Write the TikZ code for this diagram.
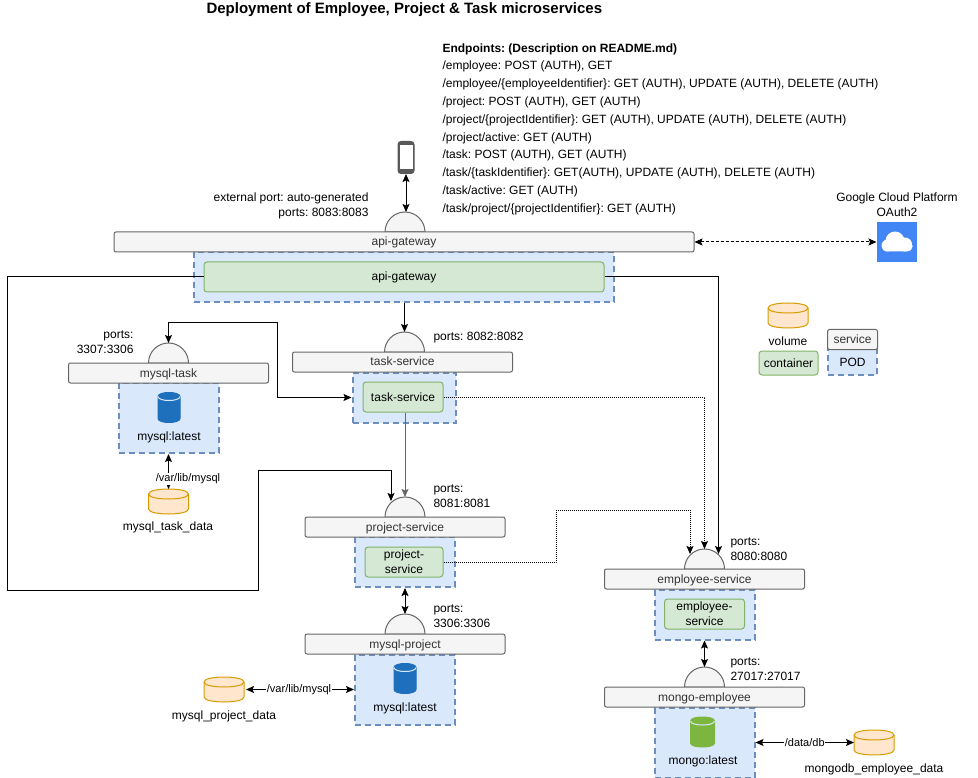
\documentclass[tikz,border=0pt]{standalone}
\usepackage{fontspec}
\setmainfont{Liberation Sans}
\usetikzlibrary{arrows.meta,shapes.geometric,calc}
\frenchspacing
\definecolor{barfill}{HTML}{F5F5F5}
\definecolor{barline}{HTML}{666666}
\definecolor{barText}{HTML}{333333}
\definecolor{podfill}{HTML}{DAE8FC}
\definecolor{podline}{HTML}{6C8EBF}
\definecolor{boxfill}{HTML}{D5E8D4}
\definecolor{boxline}{HTML}{82B366}
\definecolor{volfill}{HTML}{FFE6CC}
\definecolor{volline}{HTML}{D79B00}
\definecolor{mysqlblue}{HTML}{1F70BC}
\definecolor{mongogreen}{HTML}{7DB63F}
\definecolor{gcpblue}{HTML}{4285F4}
% can over a named node: name, line colour, inner line colour, fill, end height
\newcommand{\can}[5]{
	\coordinate (a) at ($(#1.north west)+(0,#5)$);
	\coordinate (b) at ($(#1.north east)+(0,#5)$);
	\coordinate (c) at ($(#1.south east)+(0,-#5)$);
	\coordinate (d) at ($(#1.south west)+(0,-#5)$);
	\draw[draw=#2,fill=#4] (a) .. controls +(0,-4/3*#5) and +(0,-4/3*#5) .. (b) -- (c) .. controls +(0,4/3*#5) and +(0,4/3*#5) .. (d) -- cycle;
	\draw[draw=#3] (a) .. controls +(0,4/3*#5) and +(0,4/3*#5) .. (b);
}

\begin{document}
\begin{tikzpicture}[x=1pt,y=-1pt,>={Stealth[length=8pt,width=7pt,inset=1.5pt]},font=\fontsize{12}{15}\selectfont,line width=1pt]
	\tikzstyle{oneline}=[text height=9.5pt,text depth=1.5pt]
	\tikzstyle{pod}=[draw=podline,fill=podfill,dash pattern=on 6pt off 4pt,line width=2pt,minimum height=50,minimum width=100,inner sep=0]
	\tikzstyle{box}=[draw=boxline,fill=boxfill,rounded corners=3pt,minimum height=30,minimum width=80,inner sep=0,align=center,text=black]
	\tikzstyle{bar}=[draw=barline,fill=barfill,rounded corners=2pt,minimum height=20,minimum width=200,inner sep=0,text=barText,oneline]
	\tikzstyle{dome}=[semicircle,draw=barline,fill=barfill,minimum width=40,minimum height=20,inner sep=0,outer sep=0,anchor=chord center]
	\tikzstyle{volume}=[minimum width=40,minimum height=25,inner sep=0,outer sep=0]
	\tikzstyle{drum}=[minimum width=22,minimum height=30,inner sep=0,outer sep=0]
	\tikzstyle{note}=[inner sep=0,align=left]
	\tikzstyle{path}=[fill=white,inner sep=0.5pt,font=\fontsize{11}{13}\selectfont]
	\useasboundingbox (0,0) rectangle (978,778);

	\node[anchor=west,inner sep=0,font=\fontsize{15}{17}\selectfont\bfseries] (title) at (206,10) {Deployment of Employee, Project \& Task microservices};
	\node[note,anchor=north west,font=\fontsize{12}{17.8}\selectfont] (endpoints) at (442,43) {\textbf{Endpoints: (Description on README.md)}\\
		/employee: POST (AUTH), GET\\
		/employee/\{employeeIdentifier\}: GET (AUTH), UPDATE (AUTH), DELETE (AUTH)\\
		/project: POST (AUTH), GET (AUTH)\\
		/project/\{projectIdentifier\}: GET (AUTH), UPDATE (AUTH), DELETE (AUTH)\\
		/project/active: GET (AUTH)\\
		/task: POST (AUTH), GET (AUTH)\\
		/task/\{taskIdentifier\}: GET(AUTH), UPDATE (AUTH), DELETE (AUTH)\\
		/task/active: GET (AUTH)\\
		/task/project/\{projectIdentifier\}: GET (AUTH)};

	% phone
	\node[draw=black!65,fill=black!65,rounded corners=3pt,minimum width=16,minimum height=32,inner sep=0] (phone) at (406,157.5) {};
	\node[fill=white,minimum width=13,minimum height=24,inner sep=0] (screen) at (406,157) {};

	% api-gateway
	\node[dome] (gateDome) at (405,232) {};
	\node[pod,minimum width=420] (gatePod) at (404,277) {};
	\node[bar,minimum width=580] (gateBar) at (404,242) {api-gateway};
	\node[box,oneline,minimum width=400] (gateBox) at (404,277) {api-gateway};
	\node[note,align=right,anchor=north east] (gateNote) at (369,192) {external port: auto-generated\\ports: 8083:8083};

	% google
	\node[fill=gcpblue,minimum size=40,inner sep=0] (gcp) at (897,242) {};
	\fill[white,rounded corners=5pt] (882,251.5) rectangle (912.5,241);
	\fill[white] (895,241) circle (9.5);
	\fill[white] (905,244.5) circle (7);
	\fill[white] (887.5,245.5) circle (6);
	\node[note,align=center,anchor=south] (gcpNote) at (897,217.5) {Google Cloud Platform\\OAuth2};

	% task-service
	\node[dome] (taskDome) at (404.5,352) {};
	\node[pod,minimum width=103] (taskPod) at (404,397.5) {};
	\node[bar,minimum width=220] (taskBar) at (402.5,362) {task-service};
	\node[box,oneline] (taskBox) at (403,397) {task-service};
	\node[note,anchor=west] (taskNote) at (433,337.5) {ports: 8082:8082};

	% mysql-task
	\node[dome] (sqlTaskDome) at (168.5,363) {};
	\node[pod,minimum height=70] (sqlTaskPod) at (168.5,418) {};
	\node[bar] (sqlTaskBar) at (168.5,373) {mysql-task};
	\node[drum] (sqlTaskDrum) at (169,407.5) {};
	\can{sqlTaskDrum}{mysqlblue}{podfill}{mysqlblue}{4}
	\node[inner sep=0] (sqlTaskName) at (169,437) {mysql:latest};
	\node[note,align=right,anchor=north east] (sqlTaskNote) at (134,330.5) {ports:\hspace{3pt}\\3307:3306};
	\node[volume] (taskVol) at (168.5,501.5) {};
	\can{taskVol}{volline}{volline}{volfill}{5}
	\node[inner sep=0] (taskVolName) at (168,527) {mysql\_task\_data};

	% project-service
	\node[dome] (projDome) at (405,517) {};
	\node[pod] (projPod) at (405,562) {};
	\node[bar] (projBar) at (405,527) {project-service};
	\node[box,minimum width=78] (projBox) at (404,562) {project-\\service};
	\node[note,anchor=north west] (projNote) at (433,484.5) {ports:\\8081:8081};

	% mysql-project
	\node[dome] (sqlProjDome) at (405,634) {};
	\node[pod,minimum height=70] (sqlProjPod) at (405,689.5) {};
	\node[bar] (sqlProjBar) at (405,644) {mysql-project};
	\node[drum] (sqlProjDrum) at (405,678.5) {};
	\can{sqlProjDrum}{mysqlblue}{podfill}{mysqlblue}{4}
	\node[inner sep=0] (sqlProjName) at (405,708) {mysql:latest};
	\node[note,anchor=north west] (sqlProjNote) at (433,604.5) {ports:\\3306:3306};
	\node[volume] (projVol) at (224,689.5) {};
	\can{projVol}{volline}{volline}{volfill}{5}
	\node[inner sep=0] (projVolName) at (224,716) {mysql\_project\_data};

	% employee-service
	\node[dome] (empDome) at (704.5,569) {};
	\node[pod] (empPod) at (704.5,614.5) {};
	\node[bar] (empBar) at (704.5,579) {employee-service};
	\node[box] (empBox) at (704.5,614) {employee-\\service};
	\node[note,anchor=north west] (empNote) at (730,537.5) {ports:\\8080:8080};

	% mongo-employee
	\node[dome] (mongoDome) at (704.5,687) {};
	\node[pod,minimum height=70] (mongoPod) at (704.5,742.5) {};
	\node[bar] (mongoBar) at (704.5,697) {mongo-employee};
	\node[drum,minimum width=24] (mongoDrum) at (702.5,732) {};
	\can{mongoDrum}{mongogreen}{podfill}{mongogreen}{4}
	\node[inner sep=0] (mongoName) at (703,761) {mongo:latest};
	\node[note,anchor=north west] (mongoNote) at (730,657.5) {ports:\\27017:27017};
	\node[volume] (mongoVol) at (874,742.5) {};
	\can{mongoVol}{volline}{volline}{volfill}{5}
	\node[inner sep=0] (mongoVolName) at (874,769) {mongodb\_employee\_data};

	% legend
	\node[volume] (legendVol) at (788,315.5) {};
	\can{legendVol}{volline}{volline}{volfill}{5}
	\node[inner sep=0] (legendVolName) at (788,341) {volume};
	\node[box,oneline,minimum width=59,minimum height=24] (legendBox) at (788.5,363) {container};
	\node[pod,minimum width=49,minimum height=26] (legendPod) at (852.5,362) {POD};
	\node[bar,minimum width=50,minimum height=20] (legendBar) at (852.5,339.5) {service};

	% bends of the long connectors
	\coordinate (farLeft) at (7,590);
	\coordinate (stepUp) at (258,470);
	\coordinate (projIn) at (391,501);
	\coordinate (empIn) at (718.5,554);
	\coordinate (empDot) at (690,554);
	\coordinate (dotUp) at (556,510);
	\coordinate (taskCorner) at (277,323);

	\draw[<->] (phone) -- (phone |- gateDome.apex);
	\draw[<->,densely dashed] (gateBar.east) -- (gcp.west);
	\draw[->] (gatePod.south -| taskDome.apex) -- (taskDome.apex);
	\draw[->] (gateBox.west) -| (farLeft) -| (stepUp) -| (projIn);
	\draw[->] (gateBox.east) -| (empIn);
	\draw[<->] (sqlTaskDome.apex) |- (taskCorner) |- (taskPod.west);
	\draw[->,barline] (taskBox.south -| projDome.apex) -- (projDome.apex);
	\draw[<->] (projPod.south) -- (sqlProjDome.apex);
	\draw[<->] (empPod.south) -- (mongoDome.apex);
	\draw[->,densely dotted] (taskBox.east) -| (empDome.apex);
	\draw[->,densely dotted] (projBox.east) -| (dotUp) -| (empDot);

	\draw[<->] (sqlTaskPod.south) -- (taskVol.north);
	\node[path] (taskVolPath) at (188,479) {/var/lib/mysql};
	\draw[<->,shorten <=2pt] (projVol.east) -- (sqlProjPod.west) node[midway,path] {/var/lib/mysql};
	\draw[<->] (mongoPod.east) -- (mongoVol.west) node[midway,path] {/data/db};
\end{tikzpicture}
\end{document}
